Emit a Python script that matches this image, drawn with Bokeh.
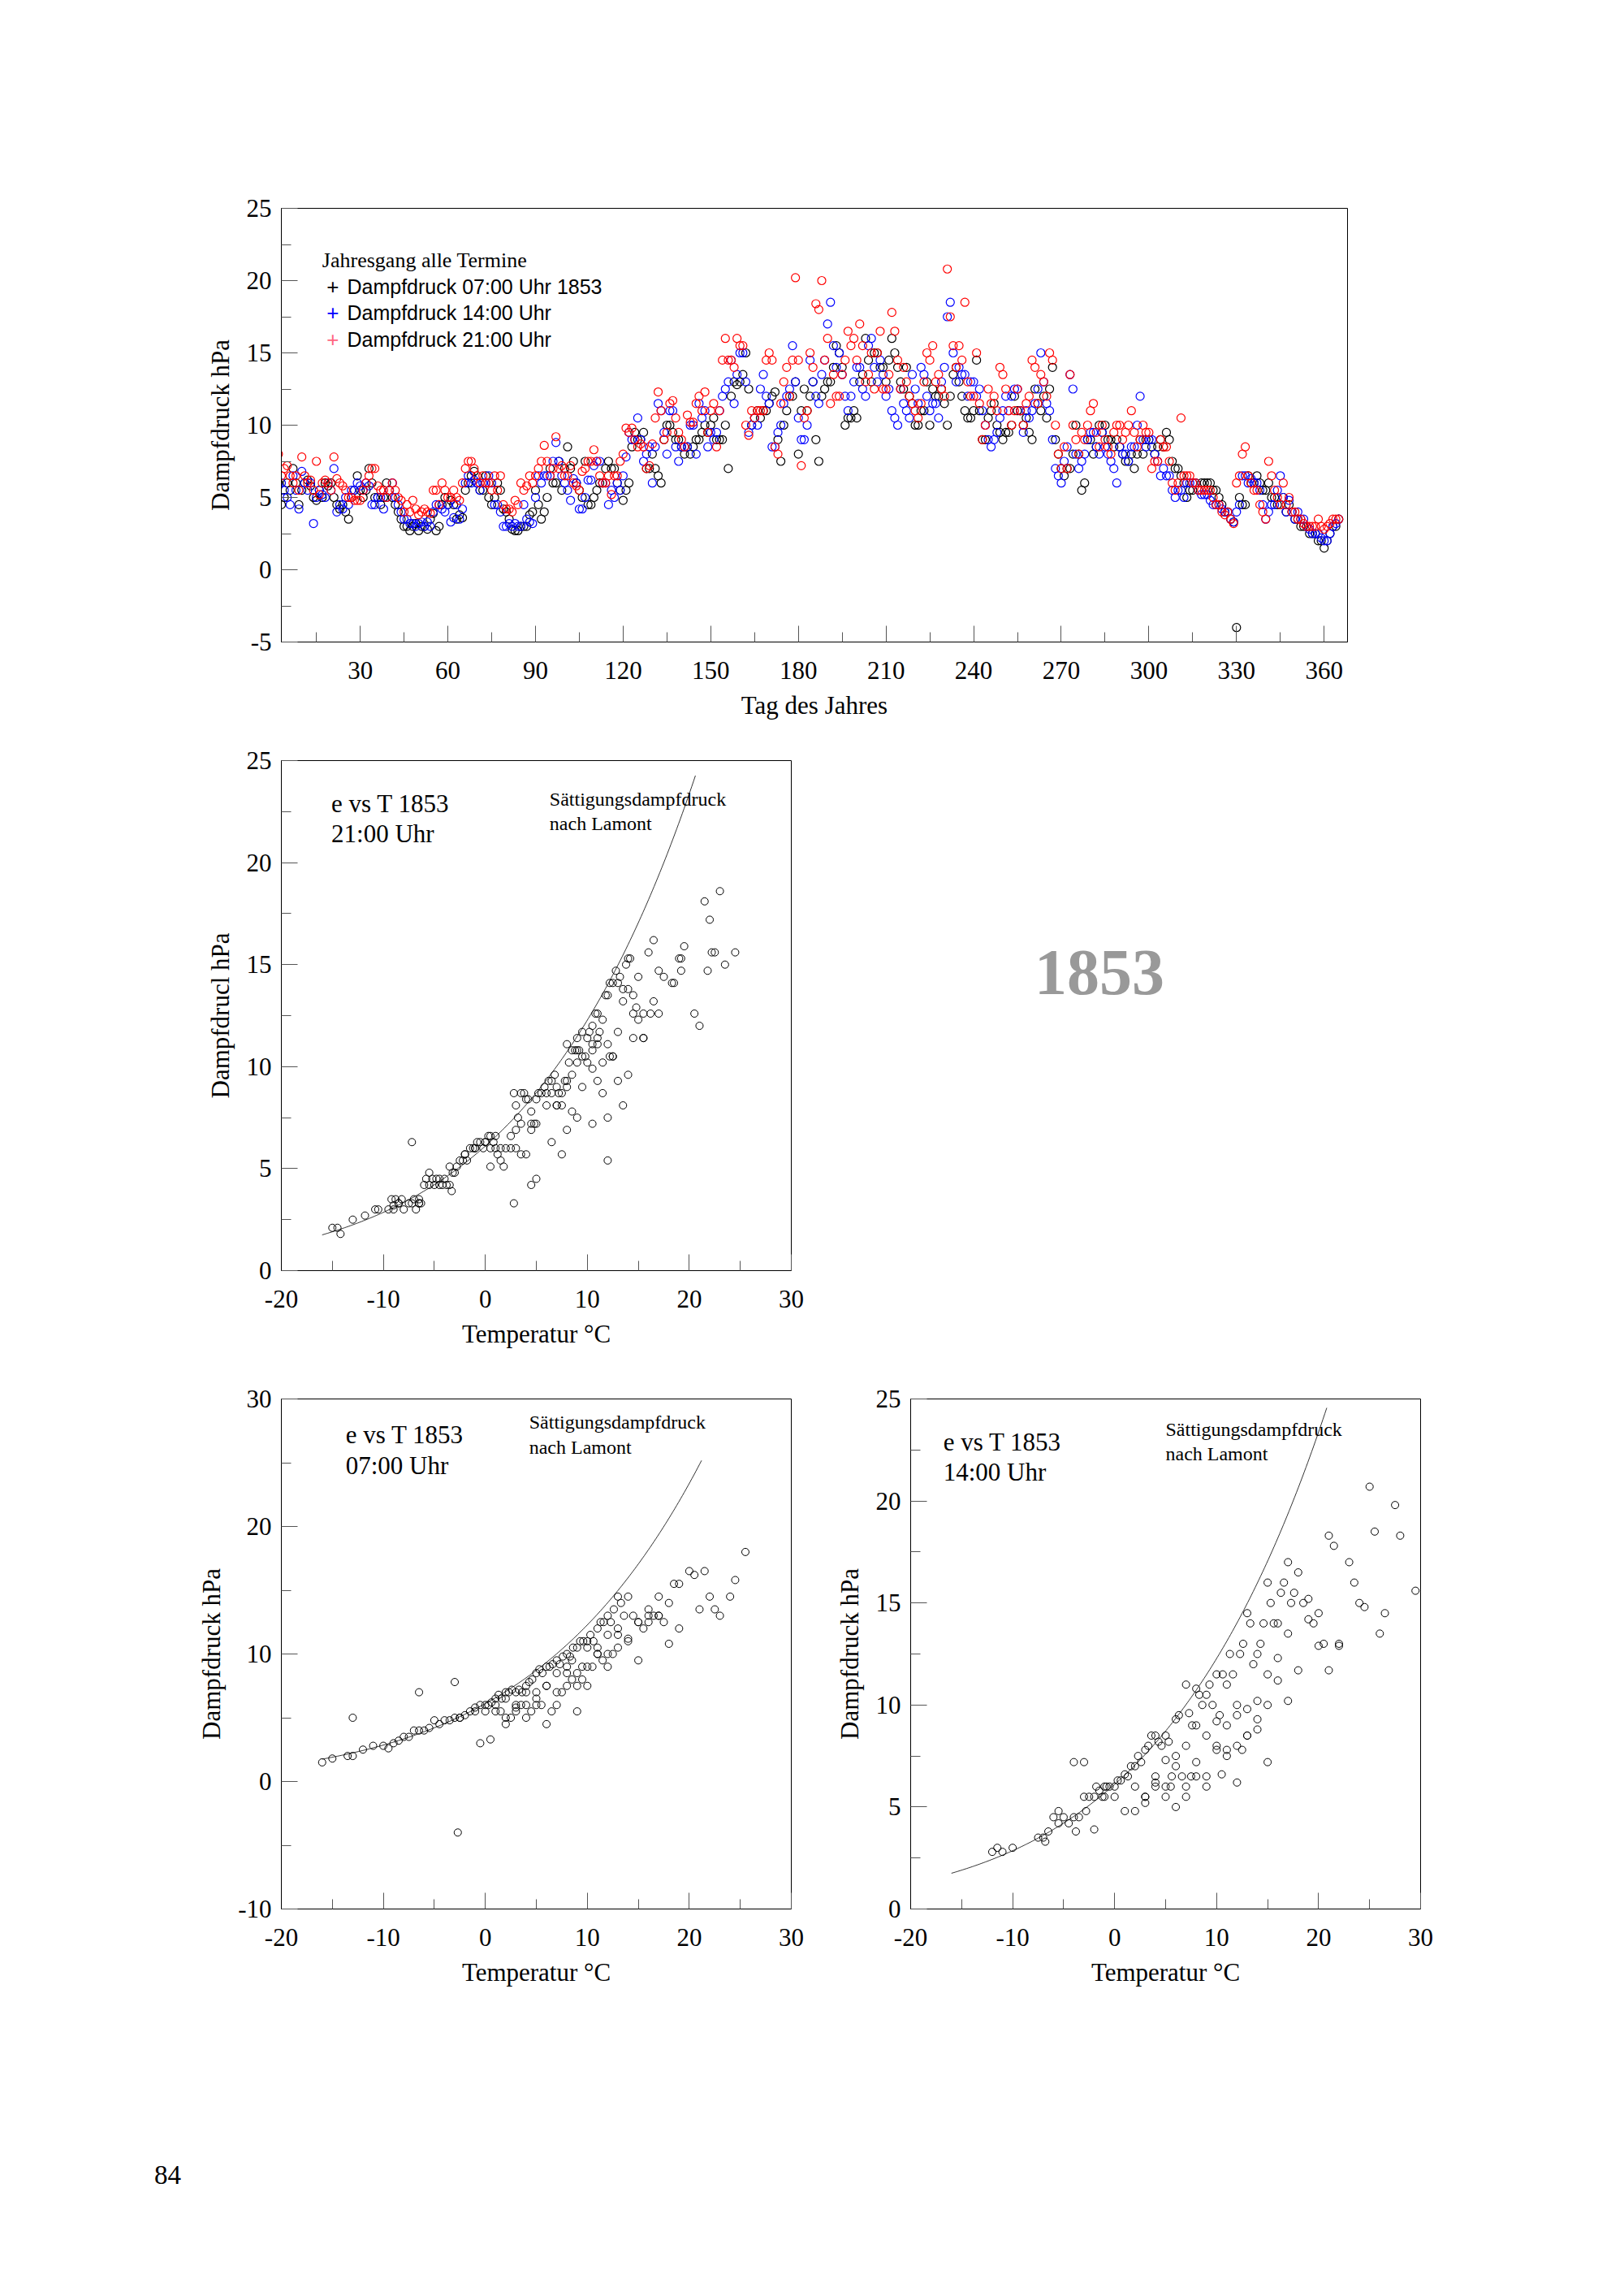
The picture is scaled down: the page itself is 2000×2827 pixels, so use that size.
import numpy as np
from bokeh.plotting import figure
from bokeh.layouts import column, row
from bokeh.models import Spacer, Label, FixedTicker, Div
from bokeh.embed import file_html
from bokeh.resources import INLINE

# ---------------- data: daily vapour pressure (hPa) ----------------
e07 = [8,6,4.5,5,6,5.5,7,6,4.5,5.5,6,6.2,5.8,5,4.8,5.5,5,6,5.8,6,5,4.5,4.2,4.5,4,3.5,5,5.5,6.5,5.5,
       5,5.5,7,6,5,5,4.5,5,6,5.5,5,4.5,4,3.5,3,3,2.7,3,3.2,2.7,3,3,2.8,3.5,3.9,2.7,3,4.5,5,4.5,
       4.8,4.5,3.5,3.8,3.6,5.5,6,6.5,6.8,6,5.5,5.5,6.5,5,4.5,5,6,5.5,4.2,4,3.5,2.8,2.7,2.7,3,3,3,3.8,4,5.5,
       4.5,3.5,4,5,7,6,6,7.5,5.5,7,8.5,7,7.5,6,5.5,5,7.5,4.5,4.5,5,5.5,6,6,7,7.5,7,7,6,5.5,4.8,
       5.5,6,8.5,9.5,9,9,9.5,7,7,8,7,6.5,6,9,10,10,9.5,9,9,8.5,8,8.5,8,8.5,9,9,9.5,10,9.5,10,
       10.5,9,9,9,10,7,12,13,12.8,13,13.5,15,12.5,10,10.5,11,10.5,11,11,11.5,12,12.3,9,7.5,10,11,12,12,13,8,
       11,12.5,11,12,13,9,7.5,12,12.5,13,13,14,15.5,15,14,10,10.5,10.5,11,10.5,13,13.5,16,14.5,13,15,15,14,14,13,
       14.5,16,15,14,13,12.5,14,12,11.5,10,10,11,11,13,10,12.5,12,12,12.5,11.5,10,12,13.5,14,13,12,11,10.5,10.5,11,
       14.5,11,9,9,10.5,11,11.5,10,9.5,9,9.5,9.5,10,12,11,11,10,10.5,9.5,9,12.5,11.5,11,12,10.5,12.5,14,9,8,7,
       6.5,7,7,8,10,8,5.5,6,9,9,8,8.5,10,9.5,10,9,9,8.5,9,8.5,8,7.5,7.5,8,7,8,9,8,9,9,
       8.5,8,8.5,9,8.5,9.5,9,7.5,7,7,6.5,6,5,5.5,5.5,6,5.5,6,6,6,6,5.5,5.5,5,4.5,4,4,3.5,3.3,-4,
       5,4.5,4.5,6.5,6,6,6.5,6,5.5,5.5,6,5,5,4.5,4.5,5,4,4.5,4,3.5,3.5,3,3,3,2.5,2.5,2.5,2,2,1.5,2,2.5,3,3,3.5]
e14 = [8,5.8,6,5.5,5,4.5,6.5,5.5,4.2,6.8,6,5.5,6,3.2,5,5.5,5.2,5,6,5.5,7,4,4.5,4.2,5,4.5,5.5,5.5,6,5.8,
       5.5,6,5.8,4.5,4.5,5,5,4.2,5,5.5,6,5,4.5,4,3.5,3.5,3.2,3.2,3,3.2,3.3,3,3.3,3,4,4.5,4.5,4.2,4,4.5,
       3.3,3.6,4.5,3.5,4.2,6,6.5,6,6.2,6,5.5,6,6,6.5,6,4.5,4.5,4,3,3,3.2,3,3.2,3,3,4.5,3.5,3.3,3.2,5,
       6.5,6,6.5,6.5,6.5,7.5,8.8,7.5,6.5,6,5.5,4.8,6.3,6,4.2,4.2,5,6.2,6.2,7.2,7.5,7.5,6,6,4.5,5.5,5,6,5.5,6.5,
       7.8,9.5,9,9,10.5,9,7.5,8,8.5,6,8.5,11.5,11,9.5,8,11,11,8.5,7.5,8.5,8.5,8.5,10,10,8,11.5,10.5,11,8.5,9.5,
       9,9.5,11,12,12.5,13,14.5,11.5,13.5,15,15,13,9.5,10,10.5,10,12.5,13.5,12,11.5,8.5,8.5,9.5,10,11.5,12,12.5,15.5,13,10.5,
       9,9,10,14.5,13,12,11.5,13.5,14.5,17,18.5,15.5,14,15,13.5,12,11,12,13,14,14,12.5,12,15.5,16,14,13,14.5,13.5,12,
       12.5,11,10.5,10,12.5,11.5,11,10.5,13.5,12.5,11.5,14,13.5,12,11,11.5,11.5,10.5,13,14,17.5,18.5,15,13,14,13.5,13.5,12,13,13,
       12,12.5,11,10,9,8.5,9,9.5,10.5,11,12,11,12,12.5,12.5,11,9.5,11,10.5,11,11.5,12.5,15,13,11.5,11,9,7,6.5,6,
       7.5,8.5,13.5,12.5,8,7,7.5,8,9,9.5,9.5,8.5,8,9.5,8.5,8,7.5,7,6,8.5,8,8,7.5,8.5,8.5,10,12,9,8.5,9,
       9,8,7.5,6.5,7,6.5,6.5,5.5,5,5.5,5.5,5,6,6,6,6,5.5,5.2,5.2,5.2,4.8,4.5,4.5,4.5,4.2,4,4,3.5,3.3,4,
       4.5,6.5,6.5,6,6.3,6,6,5.5,4.5,3.5,4,4.5,4.5,5.5,6.5,5,4,4.8,4,3.5,4,3.5,3.5,3,2.8,2.5,2.5,2.5,2.2,2,2,2.5,3,3.2,3.5]
e21 = [9,8,6.5,7,7.2,6.5,6,6.5,5.5,7.8,6.5,6,6.2,5.5,7.5,5.2,6,6.2,6,5.5,7.8,6.3,6,5.8,5.5,5,5,4.8,4.8,4.8,
       5.5,6,6.5,7,7,5.8,5.5,5.5,5,5.5,6,5.5,5,4.8,4,4.5,4,4.8,4.2,3.8,4,4.2,4,3.9,5.5,5.5,4.5,6,5.5,5,
       5,5.5,5,4.8,6,7,7.5,7.5,7,6.5,6,6.5,6,6,5.5,6.5,5.5,6.5,4.5,4.2,4.2,4,4.8,4.5,6,5.5,5.8,6.5,6,6.5,
       7,7.5,8.6,7.5,6.5,7,9.2,7,7.2,6.5,6.5,7.2,6,5.8,5.5,6.8,7,7.5,7.5,8.3,7.5,6.5,6,6,6.5,5.2,6.5,6.5,7.5,8,
       9.8,9.5,9.8,9,8.5,8.7,8.5,7,7.2,8.7,10.5,12.3,11,9,9.5,11.5,11.7,10.5,9.5,9,8.5,10.7,10.2,10.2,11.5,12,11,12.3,9.5,11,
       11.5,8.5,11,14.5,16,14.5,14.5,14,16,15.5,15.5,10,9.3,11,10.5,11,11,11,14.5,15,14.5,8.5,8,11.5,13,14,12,14.5,20.2,14.5,
       7.2,10.5,11,15,14,18.4,18,20,14.5,16,11.5,13.5,12,12,13.5,14.5,16.5,15.5,16,14.5,17,15.5,13,13.5,15,12.5,15,16.5,12.5,12.5,
       13.5,17.8,16.5,14.5,12.5,14,13,12,11.5,11,10.5,11.5,13,15,14.5,15.5,13,13.5,12.5,12,20.8,17.5,15.5,14,15.5,14.5,18.5,13,12,12,
       15,11.5,9,10,12.5,11.5,12,11,14,13.5,12.5,11,10,11,12.5,11,10,11.5,12,14.5,14,11.5,13.5,13,12,15,14.5,10,8,7,
       8.5,7,13.5,10,9,8,9.5,9,10,11,11.5,9.5,8.5,10,9,8.5,8,9.5,10,10,9,9.5,10,11,9.5,8.5,9,10,9.5,9.5,
       7,7.5,7.5,9,8.5,8.5,7.5,6,5.5,6,10.5,6.5,6.5,6.5,6,6,5.5,5.5,5.5,5.5,5.5,5,4.5,4.5,4,3.8,4,3.5,3.2,6,
       6.5,8,8.5,6.5,6,5.5,5.5,4.5,4,3.5,7.5,6.5,5.5,5,4.5,6,4.5,5,4,4,3.5,3.5,3.2,3,3,3,3,3.5,3,2.8,3,3.2,3.5,3.5,3.5]

# ---------------- data: temperature vs vapour pressure ----------------
t21 = [-15,-14.5,-14.2,-13,-11.8,-10.8,-10.5,-9.5,-9.2,-9,-8.8,-8.5,-8.2,-8,-7.5,-7.2,-7,-6.8,-6.5,-6.3,
       -6,-5.8,-5.5,-5.2,-5,-4.8,-4.5,-4.2,-4,-3.8,-3.5,-3.3,-3,-2.8,-2.5,-2.2,-2,-1.8,-1.5,-1.2,
       -1,-0.8,-0.5,-0.2,0,0.3,0.5,0.8,1,1.2,1.5,1.8,2,2.5,2.8,3,3.2,3.5,3.8,4,
       4.2,4.5,4.8,5,5.2,5.5,5.8,6,6.2,6.5,6.8,7,7.2,7.5,7.8,8,8.2,8.5,8.8,9,
       9.2,9.5,9.8,10,10.2,10.5,10.8,11,11.2,11.5,11.8,12,12.2,12.5,12.8,13,13.2,13.5,13.8,14,
       14.2,14.5,14.8,15,15.5,16,16.5,17,17.5,18.5,19,19.5,20.5,21,21.5,22,22.5,23,23.5,24.5,
       -9,-8.5,-6.5,-5.5,-4.5,-3.5,-2,-1,0,0.5,1,1.5,2.5,3,3.5,4.5,4.5,5,6,6.5,
       7,7.5,8,8,8.5,9,9,9.5,10,10.5,10.5,11,11,11.5,12,12.5,13,13.5,14,14.5,
       -7.2,2.8,3,4,5,7.5,8,9,10.5,11.5,12,12.2,13.5,14.5,15.5,16.5,17,18.3,19.2,21.8,
       -6.5,-3.2,0.5,3.5,4.5,6.5,7,8.5,9.5,10.5,11,12,12.5,13,14,15,15.5,16.2,19.2,22.2]
e21s = [2.1,2.1,1.8,2.5,2.7,3,3,3,3.5,3.2,3.5,3.3,3.5,3,3.3,3.3,3.5,3,3.5,3.3,
        4.2,4.5,4.8,4.5,4.2,4.5,4.5,4.2,4.5,4.2,4.2,3.9,4.8,5.1,5.4,5.4,5.7,5.4,6,6,
        6,6.3,6.3,6,6.3,6.6,6.6,6.3,6,5.7,5.4,5.1,6,6,8.7,8.1,7.5,8.7,8.7,8.4,
        8.4,7.8,7.2,8.4,8.7,8.7,9,8.7,9.3,9.3,9.6,9,8.7,8.7,9.3,11.1,10.2,10.8,10.8,11.4,
        10.8,11.7,10.5,11.4,11.7,12,12.6,12.6,11.7,12.3,13.5,13.5,14.1,14.1,14.7,14.1,14.4,13.8,15,15.3,
        15.3,13.5,12.9,14.4,12.6,15.6,16.2,14.7,14.4,14.1,15.3,15.9,12.6,12,18.1,17.2,15.6,18.6,15,15.6,
        3,3.3,3.3,4.2,4.2,5.1,5.7,6,6.3,6,6.6,6,6.6,6.9,7.2,6.9,7.2,7.2,8.1,8.7,
        8.1,8.1,9,9.3,9.6,10.2,10.8,10.5,10.2,10.8,11.1,11.1,11.4,10.2,11.1,10.5,11.7,13.2,13.8,12.6,
        6.3,3.3,6,5.7,4.5,5.7,6.9,7.5,7.2,8.7,7.5,10.5,8.1,11.4,11.4,13.2,12.6,14.1,14.7,14.7,
        3.3,4.8,5.1,5.7,4.2,6.3,8.1,7.8,9,9.9,9.3,5.4,10.5,9.3,9.6,12.3,11.4,12.6,15.3,15.6]
t07 = [-16,-15,-13.5,-13,-12,-11,-10,-9.5,-9,-8.5,-8,-7.5,-7,-6.5,-6,-5.5,-5,-4.5,-4,-3.5,
       -3,-2.5,-2,-1.5,-1,-0.5,0,0.3,0.6,1,1.3,1.6,2,2.3,2.6,3,3.3,3.6,4,4.3,
       4.6,5,5.3,5.6,6,6.3,6.6,7,7.3,7.6,8,8.3,8.6,9,9.3,9.6,10,10.3,10.6,11,
       11.3,11.6,12,12.3,12.6,13,13.3,13.6,14,14.5,15,15.5,16,16.5,17,17.5,18,18.5,19,20,
       20.5,21,21.5,22,22.5,23,24,24.5,25.5,-13,-6.5,-3,-2.7,-0.5,0.5,1,1.5,2,2.5,3,
       3.5,4,4.5,5,5.5,6,6.5,7,7.5,8,8.5,9,9.5,10,10.5,11,11.5,12,12.5,13,
       -2.5,-1,0,1,2,3,4,5,6,7,8,9,10,11,12,13,14,15,16,17,
       2,3,4,5,6,7,8,8.5,9,9.5,10,11,12,13,14,15,16,17,18,19]
e07s = [1.5,1.8,2,2,2.5,2.8,2.8,2.6,3,3.2,3.5,3.5,4,4,4,4.2,4.8,4.5,4.8,4.8,
        5,5,5.2,5.5,5.8,6,6,6,6.2,6.5,6.8,6.5,7,7,7.2,7,7.2,7,7.5,7.8,
        8,8.5,8.8,8.5,9,9,9.2,9.5,9.2,9.8,10,9.8,10.5,10.5,11,11,11,11.5,11,12,
        12.5,12.5,13,12.5,13.5,14.5,14,13,14.5,13,12.5,12,13,13,13,12.5,14,15.5,15.5,16.5,
        16.2,13.5,16.5,14.5,13.5,13,14.5,15.8,18,5,7,7.8,-4,3,3.3,6,5.5,4.5,5,5.5,
        6,5,5.5,6,6,4.5,5.5,6,7,7.5,8,5.5,8,7.5,9,10,9.5,9,10,11.5,
        5,5.5,5.5,5.5,6.5,6,6,7,7.5,7,8.5,8.5,9,10,10,10.5,11,9.5,12.5,14.5,
        5,5.8,7,6.5,7.5,8.5,9,9.5,7.5,9,10.5,10.5,11.5,12,11.2,12.5,13.5,13,10.8,12]
t14 = [-12,-11.5,-11,-10,-7.5,-7,-6.8,-6.5,-6,-5.5,-5.5,-5,-4.5,-4,-3.8,-3.5,-3,-2.8,-2.5,-2,
       -1.8,-1.5,-1.2,-1,-0.8,-0.5,0,0.3,0.6,1,1.3,1.6,2,2.3,2.6,3,3.3,3.6,4,4.3,
       4.6,5,5.3,5.6,6,6.3,6.6,7,7.3,7.6,8,8.3,8.6,9,9.3,9.6,10,10.3,10.6,11,
       11.3,11.6,12,12.3,12.6,13,13.3,13.6,14,14.3,14.6,15,15.3,15.6,16,16.3,16.6,17,17.3,17.6,
       18,18.5,19,19.5,20,20.5,21,21.5,22,23,23.5,24,24.5,25,25.5,26,26.5,27.5,28,29.5,
       -4,-3,-2,-1,0,1,2,3,4,5,6,7,8,9,10,11,12,13,14,15,
       2,3,4,5,5.5,6,7,7.5,8,9,10,10.5,11,12,12.5,13,14,15,16,17,
       3,4,5,6,7,8,9,10,11,12,13,14,15,16,17,18,19,20,21,22]
e14s = [2.8,3,2.8,3,3.5,3.5,3.3,3.8,4.5,4.8,4.2,4.5,4.2,4.5,3.8,4.5,5.5,4.8,5.5,5.5,
        6,5.8,5.5,6,6,6,6,6.3,6.3,6.6,6.5,7,7,7.5,7.2,7.8,8,8.5,8.5,8.2,
        8,8.5,8.2,6.5,9.3,9.5,6.5,11,9.6,9,10.8,10.5,10,10.5,11,10,11.5,9.5,11.5,11,
        12.5,11.5,10,12.5,13,14.5,14,12,12.5,13,14,16,15,14,14,15.5,16,17,15,15.5,
        16.5,15,15.2,14,14.5,13,18.3,17.8,13,17,16,15,14.8,20.7,18.5,13.5,14.5,19.8,18.3,15.6,
        7.2,7.2,3.9,5.5,5.5,4.8,4.8,5.5,6.5,6,5,6,6.5,6.5,8,7.5,8,8.5,8.8,10,
        6,5.5,6,5.5,6,7.5,5.5,6.5,7.2,6,7.8,6.6,9,9.5,7.8,8.5,9.3,7.2,11.2,10.2,
        5.2,6.2,7.3,7,8,9,8.5,9.2,7.8,6.2,9.8,10.2,11.5,12.3,13.5,11.7,14.2,12.9,11.7,12.9]

# ---------------- styling helpers ----------------
SERIF = "Liberation Serif"
SANS = "Liberation Sans"

def style(p, xticks, xminor, yticks, yminor):
    p.outline_line_color = "black"
    p.outline_line_width = 1
    p.grid.visible = False
    p.background_fill_color = "white"
    p.border_fill_color = "white"
    for ax, tk, mn in ((p.xaxis[0], xticks, xminor), (p.yaxis[0], yticks, yminor)):
        ax.ticker = FixedTicker(ticks=tk, minor_ticks=mn)
        ax.major_label_overrides = {v: str(v) for v in tk}
        ax.major_tick_in = 20
        ax.major_tick_out = 0
        ax.minor_tick_in = 12
        ax.minor_tick_out = 0
        ax.major_tick_line_color = "#555555"
        ax.minor_tick_line_color = "#555555"
        ax.axis_line_color = "black"
        ax.major_label_text_font = SERIF
        ax.major_label_text_font_size = "31px"
        ax.major_label_text_color = "black"
        ax.axis_label_text_font = SERIF
        ax.axis_label_text_font_size = "31px"
        ax.axis_label_text_font_style = "normal"
        ax.axis_label_text_color = "black"
        ax.major_label_standoff = 12
        ax.axis_label_standoff = 12
    p.xaxis[0].major_label_standoff = 24

def lab(p, x, y, t, size, font=SERIF, color="black"):
    p.add_layout(Label(x=x, y=y, text=t, text_font=font, text_font_size=size,
                       text_color=color, text_baseline="middle"))

def fig(w_frame, h_frame, xr, yr, bl, br, bt, bb):
    return figure(width=bl + w_frame + br, height=bt + h_frame + bb, x_range=xr, y_range=yr,
                  output_backend="svg", toolbar_location=None,
                  min_border_left=bl, min_border_right=br, min_border_top=bt, min_border_bottom=bb)

# ---------------- top: annual course ----------------
top = fig(1313, 534, (3, 368), (-5, 25), 150, 20, 20, 112)
style(top, list(range(30, 361, 30)), list(range(15, 366, 30)), list(range(-5, 26, 5)), [-2.5 + 5 * i for i in range(6)])
top.xaxis.axis_label = "Tag des Jahres"
top.yaxis.axis_label = "Dampfdruck hPa"
for e, c in ((e07, "black"), (e14, "blue"), (e21, "red")):
    top.scatter(list(range(1, len(e) + 1)), e, marker="circle", size=10, fill_color=None, line_color=c, line_width=1.2)
lab(top, 17, 21.4, "Jahresgang alle Termine", "26px")
for yy, c, t in ((19.6, "black", "Dampfdruck 07:00 Uhr 1853"), (17.8, "blue", "Dampfdruck 14:00 Uhr"), (15.9, "#ff6680", "Dampfdruck 21:00 Uhr")):
    lab(top, 18.5, yy, "+", "26px", SANS, c)
    lab(top, 25.5, yy, t, "25px", SANS)

def sat(T):
    return 6.1078 * 10 ** (7.5 * T / (237.3 + T))

XT, XM = [-20, -10, 0, 10, 20, 30], [-15, -5, 5, 15, 25]

# ---------------- middle: 21 Uhr ----------------
mid = fig(628, 628, (-20, 30), (0, 25), 150, 25, 20, 112)
style(mid, XT, XM, [0, 5, 10, 15, 20, 25], [2.5, 7.5, 12.5, 17.5, 22.5])
mid.xaxis.axis_label = "Temperatur °C"
mid.yaxis.axis_label = "Dampfdrucl hPa"
Tc = np.linspace(-16, 20.6, 200)
mid.line(Tc, sat(Tc), line_color="black", line_width=0.8)
mid.scatter(t21, e21s, marker="circle", size=9, fill_color=None, line_color="black", line_width=1)
lab(mid, -15.1, 22.9, "e vs T 1853", "31px")
lab(mid, -15.1, 21.4, "21:00 Uhr", "31px")
lab(mid, 6.3, 23.1, "Sättigungsdampfdruck", "24px")
lab(mid, 6.3, 21.9, "nach Lamont", "24px")

year = Div(text="1853", width=260, height=100,
           styles={"font-family": "Liberation Serif", "font-size": "80px", "font-weight": "bold",
                   "color": "#999999", "line-height": "80px"})

# ---------------- bottom-left: 07 Uhr ----------------
bl = fig(628, 628, (-20, 30), (-10, 30), 150, 25, 20, 112)
style(bl, XT, XM, [-10, 0, 10, 20, 30], [-5, 5, 15, 25])
bl.xaxis.axis_label = "Temperatur °C"
bl.yaxis.axis_label = "Dampfdruck hPa"
Tb = np.linspace(-16, 21.2, 200)
bl.line(Tb, sat(Tb), line_color="black", line_width=0.8)
bl.scatter(t07, e07s, marker="circle", size=9, fill_color=None, line_color="black", line_width=1)
lab(bl, -13.7, 27.2, "e vs T 1853", "31px")
lab(bl, -13.7, 24.8, "07:00 Uhr", "31px")
lab(bl, 4.3, 28.2, "Sättigungsdampfdruck", "24px")
lab(bl, 4.3, 26.2, "nach Lamont", "24px")

# ---------------- bottom-right: 14 Uhr ----------------
br = fig(628, 628, (-20, 30), (0, 25), 122, 40, 20, 112)
style(br, XT, XM, [0, 5, 10, 15, 20, 25], [2.5, 7.5, 12.5, 17.5, 22.5])
br.xaxis.axis_label = "Temperatur °C"
br.yaxis.axis_label = "Dampfdruck hPa"
Tr = np.linspace(-16, 20.8, 200)
br.line(Tr, sat(Tr), line_color="black", line_width=0.8)
br.scatter(t14, e14s, marker="circle", size=9, fill_color=None, line_color="black", line_width=1)
lab(br, -16.8, 22.9, "e vs T 1853", "31px")
lab(br, -16.8, 21.4, "14:00 Uhr", "31px")
lab(br, 5.0, 23.5, "Sättigungsdampfdruck", "24px")
lab(br, 5.0, 22.3, "nach Lamont", "24px")

pagenum = Div(text="84", width=80, height=40,
              styles={"font-family": "Liberation Serif", "font-size": "33px", "line-height": "36px", "color": "black"})

page = column(
    Spacer(height=236),
    row(Spacer(width=196), top),
    Spacer(height=14),
    row(Spacer(width=196), mid, Spacer(width=270), column(Spacer(height=236), year)),
    Spacer(height=26),
    row(Spacer(width=196), bl, br),
    Spacer(height=193),
    row(Spacer(width=185), pagenum),
    background="white",
)

open("out.html", "w").write(file_html(page, INLINE))
